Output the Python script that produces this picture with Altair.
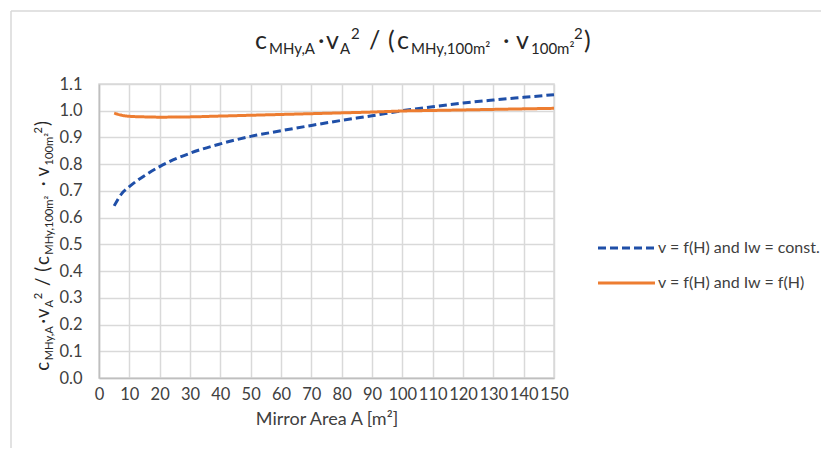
import altair as alt
import pandas as pd

# ---- data ----
area = [5, 7.5, 10, 15, 20, 30, 40, 50, 60, 70, 80, 90, 100, 110, 120, 130, 140, 150]
ratio_const = [0.644, 0.690, 0.716, 0.757, 0.791, 0.841, 0.876, 0.904, 0.925, 0.945,
               0.964, 0.981, 1.000, 1.015, 1.029, 1.040, 1.050, 1.060]
ratio_fh = [0.991, 0.983, 0.979, 0.977, 0.976, 0.977, 0.980, 0.983, 0.986, 0.989,
            0.992, 0.995, 0.999, 1.001, 1.003, 1.005, 1.007, 1.009]
series_names = ["v = f(H) and Iw = const.", "v = f(H) and Iw = f(H)"]
series_colors = ["#1F4FA8", "#ED7D31"]
series_dash = [[8, 4], [1, 0]]
x_ticks = list(range(0, 151, 10))
y_ticks = [round(i * 0.1, 1) for i in range(12)]
x_title = "Mirror Area A [m²]"

# title pieces: (text, horizontal position in title, kind)
title_pieces = [
    ("c", 255, "main"), ("MHy,A", 269, "sub"), ("·", 318, "main"), ("v", 326, "main"),
    ("A", 340, "sub"), ("2", 351, "sup"), ("/", 369, "main"), ("(", 388, "main"),
    ("c", 397, "main"), ("MHy,100m²", 411, "sub"), ("·", 503, "main"), ("v", 516, "main"),
    ("100m²", 531, "sub"), ("2", 574, "sup"), (")", 584, "main"),
]

# ---- layout helpers (pixels relative to plot origin) ----
OX, OY = 99, 84  # plot origin in page pixels
W, H = 455, 294

df = pd.DataFrame({
    "area": area * 2,
    "ratio": ratio_const + ratio_fh,
    "series": [series_names[0]] * len(area) + [series_names[1]] * len(area),
})

color_scale = alt.Scale(domain=series_names, range=series_colors)
dash_scale = alt.Scale(domain=series_names, range=series_dash)

lines = alt.Chart(df).mark_line(strokeWidth=3, interpolate="monotone").encode(
    x=alt.X("area:Q", scale=alt.Scale(domain=[0, 150], nice=False),
            axis=alt.Axis(values=x_ticks, title=x_title, format="d",
                          labelOverlap=False, labelFlush=False)),
    y=alt.Y("ratio:Q", scale=alt.Scale(domain=[0, 1.1], nice=False),
            axis=alt.Axis(values=y_ticks, format=".1f", title=None,
                          labelOverlap=False, labelFlush=False)),
    color=alt.Color("series:N", scale=color_scale, legend=None),
    strokeDash=alt.StrokeDash("series:N", scale=dash_scale, legend=None),
)

# manual legend
leg_df = pd.DataFrame({"series": series_names, "ly": [164, 199]})
leg_lines = alt.Chart(leg_df).mark_rule(strokeWidth=3).encode(
    x=alt.value(499), x2=alt.value(556),
    y=alt.Y("ly:Q", scale=None),
    color=alt.Color("series:N", scale=color_scale, legend=None),
    strokeDash=alt.StrokeDash("series:N", scale=dash_scale, legend=None),
)
leg_text = alt.Chart(leg_df).mark_text(align="left", baseline="middle", fontSize=16,
                                       font="Lato", color="#404040").encode(
    x=alt.value(559), y=alt.Y("ly:Q", scale=None), text="series:N",
)

# title pieces (chart title and rotated y-axis title)
size_main, size_sub = 25, 15
rows = []
for t, px, kind in title_pieces:
    base = {"main": 49, "sub": 54, "sup": 39}[kind]
    fs = size_main if kind == "main" else size_sub
    rows.append({"t": t, "x": px - OX, "y": base - OY, "fs": fs})
tdf = pd.DataFrame(rows)
title_layer = alt.Chart(tdf).mark_text(align="left", baseline="alphabetic", font="Lato",
                                       color="#262626").encode(
    x=alt.X("x:Q", scale=None), y=alt.Y("y:Q", scale=None),
    text="t:N", size=alt.Size("fs:Q", scale=None, legend=None),
)

k = 0.744
yrows = []
for t, px, kind in title_pieces:
    off = {"main": 0, "sub": 3.7, "sup": -6.7}[kind]
    fs = (size_main if kind == "main" else size_sub) * k
    yrows.append({"t": t, "x": 49 + off - OX, "y": 370 - (px - 256) * k - OY, "fs": fs})
ydf = pd.DataFrame(yrows)
ytitle_layer = alt.Chart(ydf).mark_text(align="left", baseline="alphabetic", font="Lato",
                                        color="#262626", angle=270).encode(
    x=alt.X("x:Q", scale=None), y=alt.Y("y:Q", scale=None),
    text="t:N", size=alt.Size("fs:Q", scale=None, legend=None),
)

# frame lines around the chart area
one = pd.DataFrame({"a": [0]})
frame_top = alt.Chart(one).mark_rule(color="#d9d9d9", strokeWidth=1.5).encode(
    x=alt.value(11 - OX), x2=alt.value(821 - OX), y=alt.value(11 - OY))
frame_left = alt.Chart(one).mark_rule(color="#d9d9d9", strokeWidth=1.5).encode(
    x=alt.value(11 - OX), y=alt.value(11 - OY), y2=alt.value(448 - OY))

chart = alt.layer(
    frame_top, frame_left, lines, leg_lines, leg_text, title_layer, ytitle_layer
).properties(
    width=W, height=H,
    autosize=alt.AutoSizeParams(type="none"),
    padding={"left": OX - 8, "top": OY - 8, "right": 813 - (OX - 8) - W, "bottom": 440 - (OY - 8) - H},
).configure_view(
    stroke="#d9d9d9", strokeWidth=1.5,
).configure_axis(
    grid=True, gridColor="#d9d9d9", gridWidth=1.5,
    domainColor="#bfbfbf", domainWidth=1.5,
    ticks=False, labelFont="Lato", labelFontSize=16.5, labelColor="#404040",
    titleFont="Lato", titleFontSize=18, titleColor="#404040", titleFontWeight="normal",
).configure_axisX(
    labelPadding=8, titlePadding=8,
).configure_axisY(
    labelPadding=17,
)

chart.save("out.html", embed_options={"renderer": "svg", "actions": False})
